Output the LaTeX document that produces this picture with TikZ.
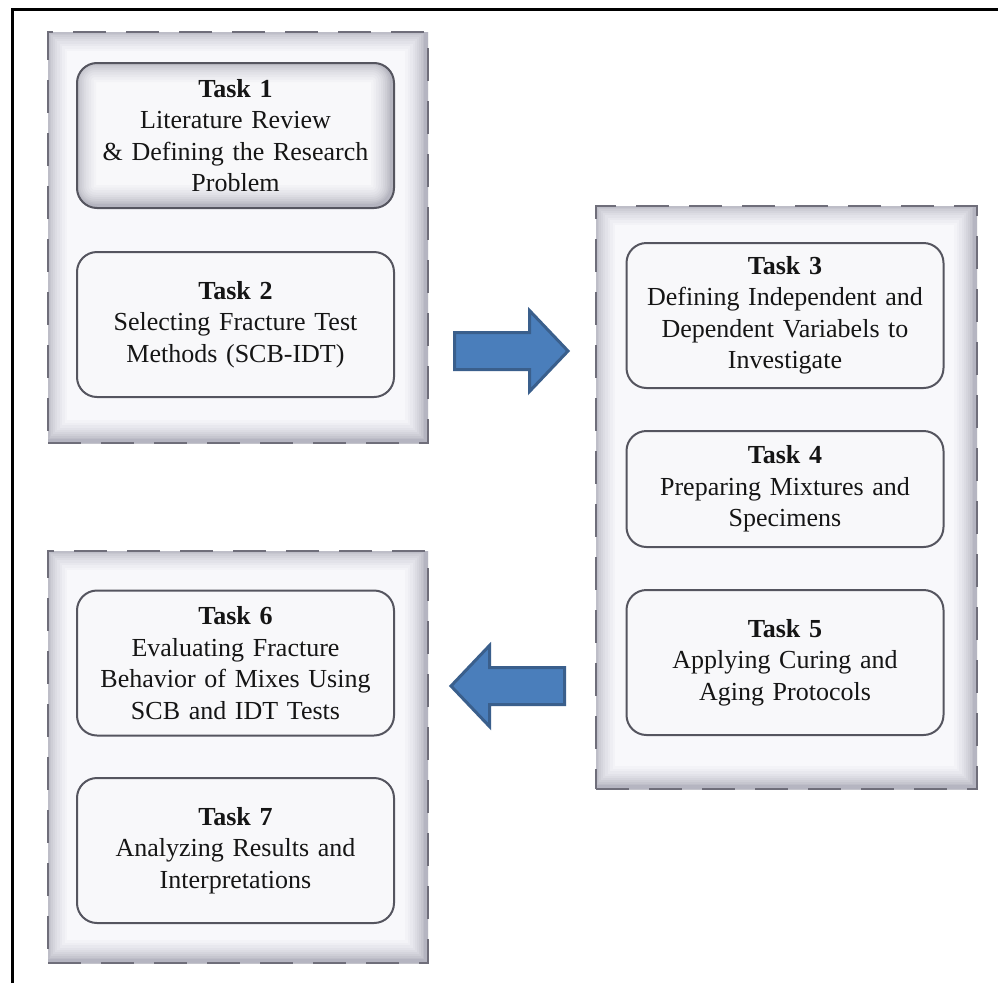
\documentclass[tikz,border=0pt]{standalone}
\usepackage{fontspec}
\setmainfont{Liberation Serif}
\definecolor{groupfill}{HTML}{F8F8FB}
\definecolor{groupborder}{HTML}{6F6E7A}
\definecolor{taskborder}{HTML}{55555F}
\definecolor{taskfill}{HTML}{F8F8FA}
\definecolor{textc}{HTML}{151515}
\definecolor{arrowfill}{HTML}{4A7EBB}
\definecolor{arrowborder}{HTML}{3A5F8C}
\definecolor{shadowc}{rgb}{0.30,0.30,0.40}
\tikzset{
  innershadow/.style={path picture={
    \foreach \w/\o in {42/0.025,37/0.028,32/0.032,27/0.036,22/0.04,18/0.045,14/0.05,10/0.055,7/0.06,4/0.07}{
      \draw[solid, line width=\w pt, draw=shadowc, opacity=\o, #1]
        ([shift={(-2,-2)}]path picture bounding box.north west) rectangle
        ([shift={(-2,-2)}]path picture bounding box.south east);}
  }},
  groupbox/.style={draw=groupborder, line width=2.5pt, dash pattern=on 33pt off 20pt,
    fill=groupfill, inner sep=0pt, outer sep=0pt, innershadow={sharp corners}},
  taskbox/.style={draw=taskborder, line width=2pt, rounded corners=20pt, fill=taskfill,
    align=center, text width=305pt, minimum width=317pt, minimum height=145pt,
    inner sep=0pt, outer sep=0pt, text=textc, font=\fontsize{26}{31.5}\selectfont},
  blockarrow/.style={draw=arrowborder, fill=arrowfill, line width=3pt, line join=miter},
}
\begin{document}
\begin{tikzpicture}[x=1pt,y=-1pt]
\useasboundingbox (0,0) rectangle (998,983);
\fill[white] (0,0) rectangle (998,983);
% outer frame (only top and left edges inside the picture)
\draw[line width=3pt, black] (12,983) -- (12,9.5) -- (998,9.5);

% groups
\node[groupbox, minimum width=380pt, minimum height=411pt] (g1) at (238,237.5) {};
\node[groupbox, minimum width=381pt, minimum height=583pt] (g2) at (786.5,497.5) {};
\node[groupbox, minimum width=380pt, minimum height=412pt] (g3) at (238,757) {};

% tasks
\node[taskbox, innershadow={rounded corners=20pt}] (t1) at (235.5,135.5)
  {\textbf{Task 1}\\Literature Review\\\& Defining the Research\\Problem};
\node[taskbox] (t2) at (235.5,324.5)
  {\textbf{Task 2}\\Selecting Fracture Test\\Methods (SCB-IDT)};
\node[taskbox] (t3) at (785,315.5)
  {\textbf{Task 3}\\Defining Independent and\\Dependent Variabels to\\Investigate};
\node[taskbox, minimum height=116pt] (t4) at (785,489)
  {\textbf{Task 4}\\Preparing Mixtures and\\Specimens};
\node[taskbox] (t5) at (785,662.5)
  {\textbf{Task 5}\\Applying Curing and\\Aging Protocols};
\node[taskbox] (t6) at (235.5,663)
  {\textbf{Task 6}\\Evaluating Fracture\\Behavior of Mixes Using\\SCB and IDT Tests};
\node[taskbox] (t7) at (235.5,850.5)
  {\textbf{Task 7}\\Analyzing Results and\\Interpretations};

% block arrows between groups
\coordinate (ra) at (511.5,351);
\coordinate (la) at (507.75,686);
\draw[blockarrow, shift={(ra)}] (-57,-18.5) -- (18,-18.5) -- (18,-40.5) -- (56.5,0)
  -- (18,40.5) -- (18,18.5) -- (-57,18.5) -- cycle;
\draw[blockarrow, shift={(la)}] (56.75,-18.5) -- (-18.25,-18.5) -- (-18.25,-40.5) -- (-56.75,0)
  -- (-18.25,40.5) -- (-18.25,18.5) -- (56.75,18.5) -- cycle;
\end{tikzpicture}
\end{document}
